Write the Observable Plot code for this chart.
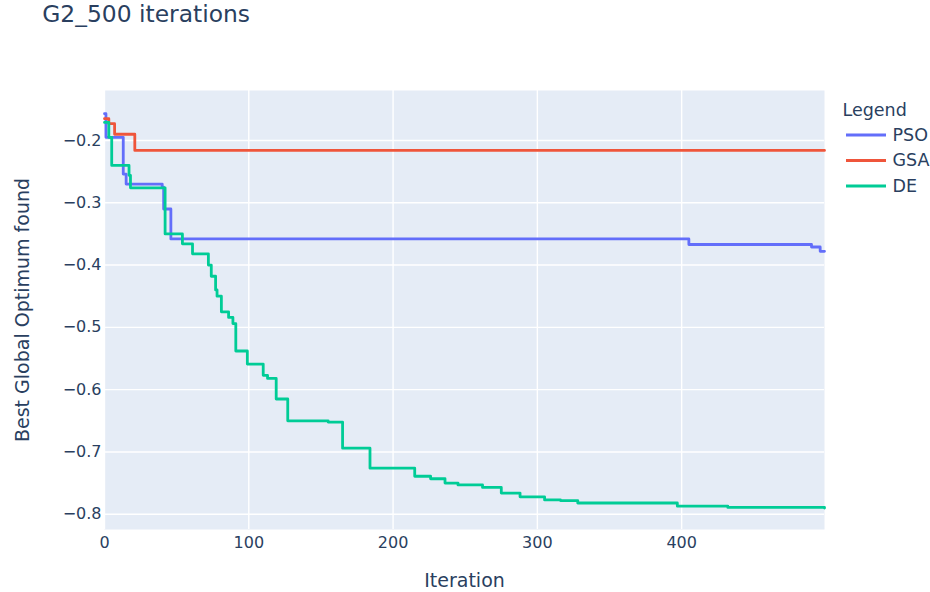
<!DOCTYPE html>
<html>
<head>
<meta charset="utf-8">
<script src="https://cdn.jsdelivr.net/npm/d3@7"></script>
<script src="https://cdn.jsdelivr.net/npm/@observablehq/plot@0.6"></script>
<style>
  body { margin: 0; background: #fff; }
</style>
</head>
<body>
<div id="chart"></div>
<script>
// Best global optimum found per iteration, stored at the iterations where it changes
const seriesNames = ["PSO", "GSA", "DE"];
const seriesColors = ["#636efa", "#ef553b", "#00cc96"];

const psoIter = [0, 1, 13, 15, 40, 41, 46, 405, 490, 496, 499];
const psoBest = [-0.157, -0.195, -0.254, -0.270, -0.275, -0.310, -0.358, -0.367, -0.371, -0.378, -0.378];

const gsaIter = [0, 3, 7, 21, 499];
const gsaBest = [-0.165, -0.173, -0.190, -0.216, -0.216];

const deIter = [0, 3, 5, 17, 18, 42, 54, 61, 72, 74, 77, 78, 81, 86, 89, 91, 99, 110, 113, 119,
  127, 155, 165, 184, 215, 226, 236, 245, 262, 275, 288, 305, 316, 328, 397, 432, 499];
const deBest = [-0.171, -0.195, -0.240, -0.256, -0.276, -0.350, -0.366, -0.382, -0.400, -0.418,
  -0.440, -0.450, -0.475, -0.484, -0.494, -0.538, -0.559, -0.577, -0.582, -0.615,
  -0.650, -0.652, -0.694, -0.726, -0.739, -0.743, -0.750, -0.753, -0.757, -0.766,
  -0.772, -0.777, -0.778, -0.782, -0.787, -0.789, -0.790];

const xTicks = [0, 100, 200, 300, 400];
const yTicks = [-0.8, -0.7, -0.6, -0.5, -0.4, -0.3, -0.2];

const chartTitle = "G2_500 iterations";
const xTitle = "Iteration";
const yTitle = "Best Global Optimum found";
const legendTitle = "Legend";

const rows = [
  ...psoIter.map((it, i) => ({algo: "PSO", iteration: it, best: psoBest[i]})),
  ...gsaIter.map((it, i) => ({algo: "GSA", iteration: it, best: gsaBest[i]})),
  ...deIter.map((it, i) => ({algo: "DE", iteration: it, best: deBest[i]}))
];

const ink = "#2a3f5f";
const font = "'DejaVu Sans', Verdana, sans-serif";

const chart = Plot.plot({
  width: 930,
  height: 592,
  marginLeft: 104,
  marginRight: 106,
  marginTop: 90,
  marginBottom: 63,
  style: {fontFamily: font, fontSize: "16px", color: ink, background: "#fff", overflow: "visible"},
  x: {domain: [0, 499]},
  y: {domain: [-0.8245, -0.1198]},
  color: {domain: seriesNames, range: seriesColors},
  marks: [
    Plot.frame({fill: "#e5ecf6", stroke: null}),
    Plot.gridX(xTicks, {stroke: "#fff", strokeOpacity: 1, strokeWidth: 1.4}),
    Plot.gridY(yTicks, {stroke: "#fff", strokeOpacity: 1, strokeWidth: 1.4}),
    Plot.axisX(xTicks, {tickSize: 0, tickPadding: 7, label: null, fontSize: 16}),
    Plot.axisY(yTicks, {tickSize: 0, tickPadding: 3, label: null, fontSize: 16, tickFormat: d3.format(".1f")}),
    Plot.line(rows, {x: "iteration", y: "best", z: "algo", stroke: "algo", curve: "step-after", strokeWidth: 2.8}),
    Plot.text([xTitle], {text: d => d, frameAnchor: "bottom", dy: 57, lineAnchor: "bottom", fontSize: 19, fill: ink}),
    Plot.text([yTitle], {text: d => d, frameAnchor: "left", dx: -82, rotate: -90, textAnchor: "middle", fontSize: 19, fill: ink}),
    Plot.text([chartTitle], {text: d => d, frameAnchor: "top-left", dx: -62.3, dy: -69, lineAnchor: "bottom", textAnchor: "start", fontSize: 23.4, fill: ink})
  ]
});

// Legend to the right of the plot area
const svg = d3.select(chart);
const legend = svg.append("g")
  .attr("font-family", font)
  .attr("font-size", 17.5)
  .attr("text-anchor", "start")
  .attr("fill", ink);
legend.append("text").attr("x", 842.5).attr("y", 116).attr("text-anchor", "start").text(legendTitle);
seriesNames.forEach((name, i) => {
  const base = 140.5 + i * 25.5;
  legend.append("line")
    .attr("x1", 846).attr("x2", 886)
    .attr("y1", base - 5.5).attr("y2", base - 5.5)
    .attr("stroke", seriesColors[i]).attr("stroke-width", 2.8);
  legend.append("text").attr("x", 892.5).attr("y", base).attr("text-anchor", "start").text(name);
});

document.getElementById("chart").appendChild(chart);
</script>
</body>
</html>
